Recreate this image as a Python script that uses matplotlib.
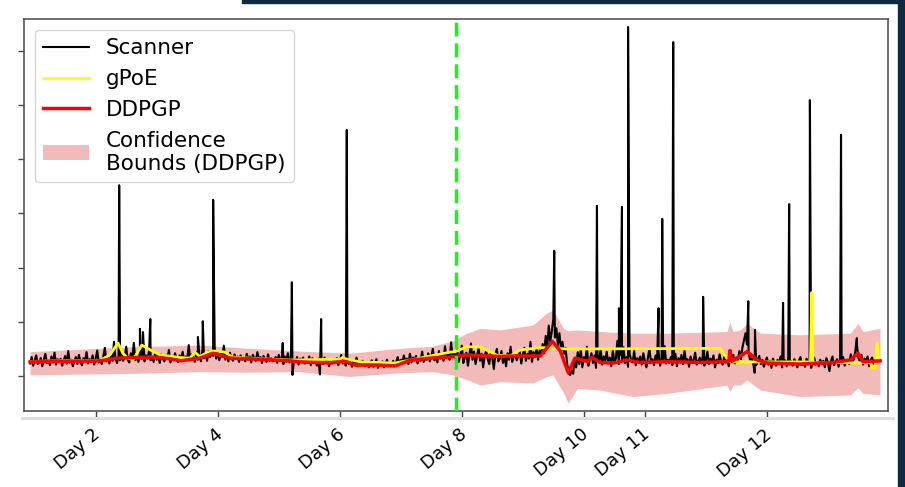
import numpy as np
import matplotlib
matplotlib.use('Agg')
import matplotlib.pyplot as plt
from matplotlib.lines import Line2D
from matplotlib.patches import Rectangle
from matplotlib.transforms import ScaledTranslation

# Scanner readings on a regular time grid (position units, Day n ticks below)
scanner_t0 = 0.92
scanner_dt = 0.025
scanner_base = [
    2.3, 3.5, 1.9, 2.9, 3.8, 2.2, 2.6, 3.3, 1.8, 3.0, 4.1, 2.4, 2.9, 2.0, 3.6, 2.5, 4.3, 2.1, 3.1, 2.6,
    3.2, 1.9, 2.8, 3.7, 2.3, 4.6, 2.5, 3.0, 1.8, 2.7, 3.5, 2.2, 3.9, 2.6, 2.0, 3.3, 2.8, 4.4, 2.3, 3.1,
    2.6, 3.8, 2.1, 3.2, 4.7, 2.5, 3.0, 2.2, 3.6, 5.2, 2.7, 3.4, 2.3, 3.9, 2.8, 6.3, 3.1, 2.4, 3.7, 2.9,
    4.1, 2.8, 3.5, 5.4, 3.0, 2.5, 4.2, 3.3, 6.1, 2.9, 3.6, 2.6, 4.4, 3.1, 5.0, 2.7, 3.8, 3.2, 4.6, 2.9,
    3.4, 2.6, 4.3, 3.0, 3.7, 2.4, 4.0, 3.2, 2.7, 3.9, 3.1, 4.8, 2.5, 3.5, 2.9, 4.2, 3.3, 2.6, 3.8, 3.0,
    4.5, 2.8, 3.6, 3.1, 5.7, 2.9, 4.0, 3.4, 2.6, 4.4, 3.0, 3.7, 2.7, 4.9, 3.3, 3.9, 2.8, 4.6, 3.5, 4.1,
    3.7, 5.3, 3.2, 4.5, 2.9, 4.1, 3.5, 5.6, 3.0, 3.9, 2.7, 4.3, 3.3, 2.8, 4.0, 3.1, 3.6, 2.6, 3.8, 3.0,
    3.4, 2.7, 4.1, 3.0, 3.6, 2.5, 3.9, 3.2, 2.8, 4.4, 2.9, 3.5, 2.4, 3.7, 3.1, 2.6, 4.0, 2.8, 3.3, 2.7,
    2.9, 3.5, 2.4, 3.9, 2.8, 3.3, 2.2, 3.6, 2.6, 4.2, 2.5, 3.1, 0.2, 3.0, 2.6, 3.5, 2.1, 3.2, 2.7, 3.4,
    2.3, 3.0, 2.6, 3.6, 2.0, 3.3, 2.5, 2.9, 1.9, 3.2, 0.3, 2.8, 2.2, 3.4, 2.4, 3.0, 1.8, 2.7, 2.3, 3.1,
    2.5, 3.3, 2.0, 2.8, 3.9, 2.3, 2.7, 1.9, 3.1, 2.2, 2.6, 1.7, 2.9, 2.4, 3.4, 1.8, 2.5, 2.1, 2.8, 2.3,
    1.9, 2.6, 1.6, 2.4, 2.9, 1.7, 2.2, 3.1, 1.5, 2.5, 2.0, 2.7, 1.6, 2.3, 3.0, 1.8, 2.4, 2.1, 2.8, 1.9,
    2.6, 3.5, 2.1, 3.0, 2.4, 3.8, 2.7, 3.2, 2.2, 4.1, 2.5, 3.4, 2.9, 3.7, 2.3, 3.1, 2.8, 4.5, 2.6, 3.3,
    3.0, 4.2, 2.7, 3.6, 5.0, 2.9, 3.4, 2.5, 4.6, 3.2, 3.9, 2.8, 5.5, 3.3, 4.0, 3.0, 6.2, 3.5, 4.4, 3.1,
    4.8, 2.6, 3.9, 5.6, 2.4, 3.5, 4.3, 1.9, 3.8, 6.0, 3.0, 4.5, 2.2, 3.6, 5.1, 2.8, 4.1, 1.6, 3.7, 4.7,
    3.1, 2.2, 4.4, 3.4, 1.3, 3.9, 5.0, 2.7, 3.3, 4.6, 2.4, 3.8, 1.8, 4.2, 3.0, 5.4, 2.6, 3.5, 4.0, 2.9,
    3.6, 4.5, 2.3, 3.9, 5.2, 2.8, 4.1, 3.2, 6.3, 2.6, 4.4, 3.5, 5.0, 3.0, 4.7, 3.8, 5.9, 4.2, 7.4, 5.1,
    9.3, 6.4, 8.2, 10.6, 7.1, 8.8, 5.7, 7.9, 5.0, 6.3, 4.1, 5.2, 2.4, 0.5, 0.2, 1.0, 0.4, 3.2, 1.6, 4.4,
    2.2, 4.9, 1.6, 3.5, 2.7, 5.4, 1.9, 3.1, 4.2, 2.4, 3.8, 1.5, 3.3, 2.6, 5.0, 2.1, 3.6, 2.9, 4.5, 2.3,
    3.4, 1.8, 4.7, 2.6, 3.2, 6.5, 2.2, 3.9, 2.8, 5.3, 2.4, 3.5, 1.7, 4.1, 3.0, 2.5, 4.6, 2.0, 3.3, 2.7,
    3.6, 2.1, 4.2, 2.8, 1.6, 3.4, 5.1, 2.5, 3.1, 2.0, 3.8, 2.6, 4.4, 1.9, 3.2, 2.7, 5.5, 2.3, 3.0, 2.4,
    3.5, 2.0, 2.9, 4.1, 1.8, 3.3, 2.5, 3.9, 2.2, 4.6, 2.7, 3.1, 1.7, 3.6, 2.4, 3.0, 4.3, 2.1, 2.8, 3.4,
    2.3, 3.7, 1.9, 2.9, 4.5, 2.2, 3.2, 2.6, 3.8, 1.6, 3.0, 2.4, 4.0, 2.7, 2.1, 3.5, 2.5, 3.1, 1.8, 3.3,
    2.6, 3.9, 2.3, 3.4, 2.8, 4.6, 3.1, 5.3, 6.6, 7.9, 5.8, 4.2, 3.0, 3.3, 2.4, 0.6, 2.0, 2.9, 3.7, 2.2,
    3.0, 1.7, 2.6, 3.4, 2.1, 2.8, 1.5, 3.2, 2.4, 1.9, 3.0, 2.2, 3.6, 1.6, 2.5, 2.9, 1.8, 3.3, 2.3, 2.7,
    1.9, 3.1, 2.4, 1.6, 2.8, 3.5, 2.0, 2.6, 1.7, 3.2, 2.3, 2.9, 1.5, 2.7, 3.4, 2.1, 2.5, 1.8, 3.0, 2.2,
    2.8, 1.6, 3.3, 2.4, 0.9, 2.7, 3.6, 2.0, 2.5, 3.1, 1.7, 2.9, 2.3, 3.5, 1.9, 2.6, 3.0, 2.2, 4.0, 2.4,
    3.1, 4.6, 5.8, 3.4, 2.5, 3.9, 2.1, 3.2, 2.7, 3.6, 1.8, 2.9, 3.4, 2.3, 3.0, 2.6, 3.3, 2.8,
]

# Isolated scanner spikes
spike_t = [2.38, 2.72, 2.77, 2.89, 3.67, 3.75, 3.92, 5.06, 5.21, 5.69, 6.11,
           9.51, 10.21, 10.57, 10.62, 10.72, 11.22, 11.28, 11.46, 11.95,
           12.69, 12.80, 13.26, 13.36, 13.70, 14.21, 14.47]
spike_v = [35.2, 8.7, 8.1, 10.5, 7.2, 10.1, 32.5, 6.1, 17.3, 10.5, 45.4,
           23.1, 31.4, 12.5, 31.2, 64.4, 12.5, 29.0, 61.6, 14.6,
           13.8, 8.5, 13.5, 31.7, 50.9, 44.5, 7.0]

# DDPGP mean
ddpgp_t = [0.92, 1.41, 2.07, 2.36, 2.89, 3.21, 3.38, 3.70, 3.92, 4.20, 4.69, 5.18, 5.34,
           5.84, 6.08, 6.25, 6.66, 6.90, 7.15, 7.48, 7.80, 7.89, 8.08, 8.62, 8.90, 9.28,
           9.48, 9.61, 9.74, 9.85, 10.05, 10.13, 10.26, 10.48, 10.70, 10.92, 11.36, 11.90,
           12.34, 12.37, 12.39, 12.42, 12.67, 12.84, 13.00, 13.54, 14.08, 14.36, 14.49,
           14.57, 14.85]
ddpgp_v = [2.6, 2.7, 2.8, 3.3, 3.5, 3.2, 2.8, 3.3, 4.2, 3.3, 3.1, 2.8, 2.6,
           2.4, 2.7, 2.0, 2.0, 1.85, 2.9, 3.3, 3.5, 3.6, 3.9, 3.6, 3.7, 3.7,
           6.4, 4.6, 0.6, 3.3, 2.7, 3.4, 2.5, 2.4, 2.95, 2.5, 2.65, 2.5,
           2.65, 2.7, 4.7, 2.7, 4.5, 2.95, 2.4, 2.2, 2.5, 2.95, 4.2,
           2.65, 2.8]

# gPoE
gpoe_t = [0.92, 1.41, 2.07, 2.23, 2.36, 2.44, 2.52, 2.61, 2.75, 2.89, 3.05, 3.38, 3.54,
          3.62, 3.70, 3.87, 4.00, 4.11, 4.23, 4.52, 5.18, 6.00, 6.05, 6.08, 6.33, 6.90,
          7.31, 7.80, 7.89, 8.08, 8.30, 8.57, 8.79, 8.95, 9.28, 9.72, 12.23, 12.26, 12.39,
          13.71, 13.73, 13.75, 14.69, 14.72, 14.77, 14.80, 14.83, 14.85]
gpoe_v = [2.7, 2.8, 2.9, 3.9, 6.1, 4.2, 3.3, 3.0, 5.7, 4.8, 3.9, 3.4, 3.3,
          4.4, 3.6, 4.6, 4.6, 4.4, 3.5, 3.3, 2.95, 3.1, 3.5, 3.2, 2.6, 2.4,
          3.3, 4.4, 4.5, 5.4, 5.35, 3.85, 3.7, 4.8, 5.25, 4.98, 5.1, 4.5, 2.6,
          2.6, 15.4, 2.45, 2.45, 1.5, 1.48, 6.1, 3.0, 2.9]

# DDPGP confidence bounds
bound_t = [0.92, 2.61, 3.70, 4.52, 5.34, 6.16, 6.98, 7.52, 7.85, 8.08, 8.30, 8.62, 9.16,
           9.39, 9.49, 9.66, 9.74, 9.89, 10.26, 10.80, 11.36, 12.34, 12.39, 12.44, 12.56,
           12.67, 12.89, 13.54, 14.36, 14.49, 14.57, 14.85]
bound_hi = [4.5, 5.4, 5.7, 5.1, 4.6, 4.2, 5.1, 5.5, 6.5, 7.9, 8.8, 8.5, 9.4,
            11.6, 12.2, 8.8, 8.3, 8.5, 8.2, 7.9, 7.9, 8.2, 10.0, 8.2, 8.5,
            9.7, 7.9, 7.6, 7.9, 9.7, 8.2, 8.8]
bound_lo = [0.2, 0.5, 0.8, 0.7, 0.8, -0.1, 0.6, 0.8, 0.2, -0.7, -1.7, -1.05, -1.3,
            -0.1, 0.2, -3.1, -5.0, -2.3, -2.6, -3.8, -3.2, -1.7, -2.9, -1.7, -1.66,
            -0.74, -2.6, -3.8, -3.5, -2.2, -3.2, -3.5]

split_t = 7.90
tick_pos = [2, 4, 6, 8, 10, 11, 13]
tick_labels = ['Day 2', 'Day 4', 'Day 6', 'Day 8', 'Day 10', 'Day 11', 'Day 12']

# merge the regular readings with the spikes
base_t = scanner_t0 + scanner_dt * np.arange(len(scanner_base))
all_t = np.concatenate([base_t, spike_t])
all_v = np.concatenate([scanner_base, spike_v])
order = np.argsort(all_t)
scan_t = all_t[order]
scan_v = all_v[order]

fig = plt.figure(figsize=(9.05, 4.87), dpi=100)
ax = fig.add_axes([24 / 905, 76 / 487, 864 / 905, 392 / 487])

ax.fill_between(bound_t, bound_lo, bound_hi, color='#f2b3b3', alpha=0.9,
                linewidth=0, label='Confidence\nBounds (DDPGP)', zorder=1)
ax.plot(scan_t, scan_v, color='black', linewidth=1.5, label='Scanner', zorder=2)
ax.plot(gpoe_t, gpoe_v, color='#ffff00', linewidth=2.0, label='gPoE', zorder=3)
ax.plot(ddpgp_t, ddpgp_v, color='#ff0000', linewidth=2.5, label='DDPGP', zorder=4)
ax.axvline(split_t, color='#22ee22', linestyle=(0, (4, 2)), linewidth=2.5, zorder=5)

ax.set_xlim(0.82, 14.98)
ax.set_ylim(-6.46, 65.87)
ax.set_yticks(np.arange(0, 61, 10))
ax.set_yticklabels([])
ax.tick_params(axis='both', colors='#444444', length=4, width=1)
ax.tick_params(axis='x', labelcolor='black')
for s in ax.spines.values():
    s.set_color('#555555')
    s.set_linewidth(1.2)

ax.set_xticks(tick_pos)
ax.set_xticklabels(tick_labels, rotation=40, ha='right', fontsize=13)
# nudge the rotated labels (must come after tick_params)
shift = ScaledTranslation(0.08, -0.04, fig.dpi_scale_trans)
for lab in ax.get_xticklabels():
    lab.set_transform(lab.get_transform() + shift)

handles, labels = ax.get_legend_handles_labels()
want = ['Scanner', 'gPoE', 'DDPGP', 'Confidence\nBounds (DDPGP)']
hmap = dict(zip(labels, handles))
ax.legend([hmap[w] for w in want], want, loc='upper left', fontsize=15.5,
          handlelength=2.1, borderaxespad=0.5)

# slide decorations around the screenshot
fig.add_artist(Line2D([22 / 905, 893 / 905], [69 / 487, 69 / 487],
                      color='#dcdcdc', linewidth=2))
fig.add_artist(Rectangle((242 / 905, 484 / 487), 663 / 905, 3 / 487,
                         color='#0d2b3e', transform=fig.transFigure))
fig.add_artist(Rectangle((898 / 905, 0), 7 / 905, 1,
                         color='#0d2b3e', transform=fig.transFigure))

fig.savefig('out.png', dpi=100)
